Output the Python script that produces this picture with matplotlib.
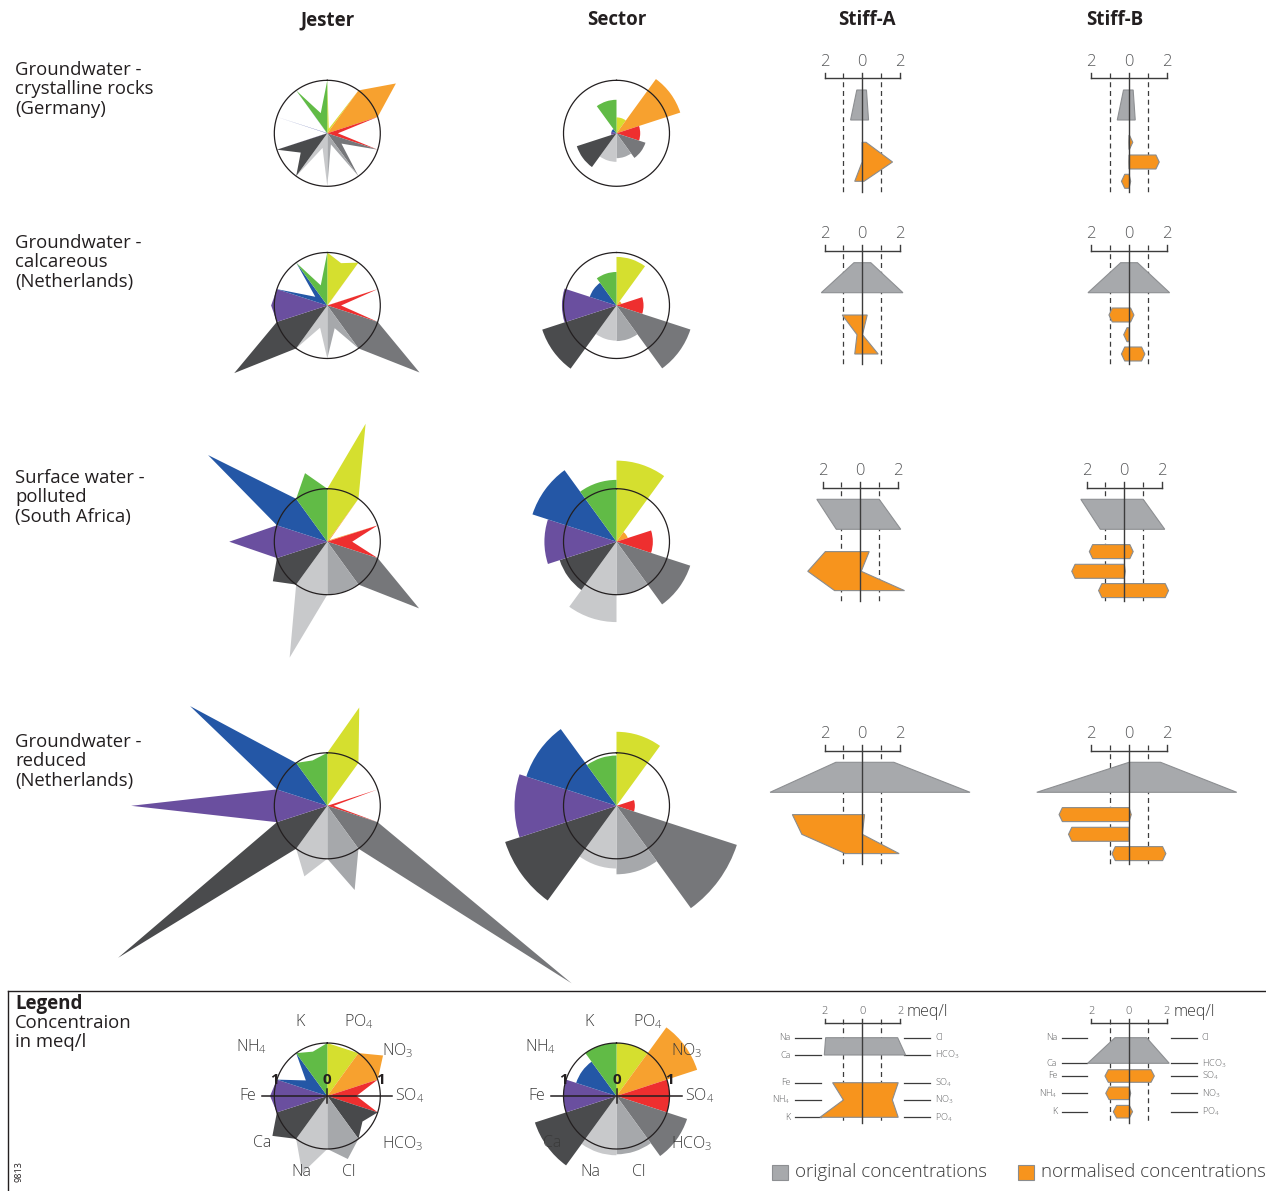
import numpy as np
import matplotlib
matplotlib.use("Agg")
import matplotlib.pyplot as plt
from matplotlib.patches import Polygon, Rectangle

plt.rcParams["font.family"] = ["Open Sans", "DejaVu Sans"]
plt.rcParams["mathtext.default"] = "regular"

W, H, DPI = 1266, 1191, 100

# Ions clockwise from north, one 36-degree sector each
IONS = ["PO4", "NO3", "SO4", "HCO3", "Cl", "Na", "Ca", "Fe", "NH4", "K"]
ION_TEXT = ["PO$_4$", "NO$_3$", "SO$_4$", "HCO$_3$", "Cl", "Na", "Ca", "Fe", "NH$_4$", "K"]
ION_COLORS = ["#d5df2f", "#f7a12f", "#ee2f2f", "#76777a", "#a6a8ab",
              "#c8c9cb", "#4a4b4d", "#6a4f9f", "#2457a6", "#61bb46"]
# the legend star shows bicarbonate in the dark grey
LEGEND_JESTER_COLORS = ION_COLORS[:3] + ["#48494b"] + ION_COLORS[4:]

COLUMN_TITLES = ["Jester", "Sector", "Stiff-A", "Stiff-B"]
ROW_TITLES = ["Groundwater -\ncrystalline rocks\n(Germany)",
              "Groundwater -\ncalcareous\n(Netherlands)",
              "Surface water -\npolluted\n(South Africa)",
              "Groundwater -\nreduced\n(Netherlands)"]

# Concentrations in meq/l, ordered as IONS
gw_crystalline = [0.09, 1.60, 0.20, 0.33, 0.22, 0.29, 0.62, 0.01, 0.01, 0.40]
gw_calcareous = [0.84, 0.01, 0.26, 2.15, 0.45, 0.44, 2.17, 1.06, 0.28, 0.40]
sw_polluted = [2.34, 0.05, 0.47, 2.14, 1.00, 2.30, 1.27, 1.85, 2.78, 1.36]
gw_reduced = [1.95, 0.00, 0.12, 5.70, 1.67, 1.40, 4.88, 3.70, 3.20, 0.90]

# Stiff-B original-concentration outline of the reduced sample: Na, Ca, Cl, HCO3
gw_reduced_stiff_b_original = [0.00, 4.88, 1.67, 5.70]

# Legend examples
legend_jester = [0.95, 1.30, 0.55, 0.82, 1.25, 1.53, 1.28, 1.08, 0.50, 0.88]
legend_sector = [1.00, 2.56, 1.00, 1.96, 1.21, 1.25, 2.62, 1.00, 0.64, 1.00]
legend_stiff_a_cations = [1.94, 2.01, 1.57, 1.00, 2.24]   # Na, Ca, Fe, NH4, K
legend_stiff_a_anions = [1.87, 2.29, 1.90, 1.59, 1.90]    # Cl, HCO3, SO4, NO3, PO4
legend_stiff_b_cations = [0.74, 2.19, 1.27, 1.23, 0.83]
legend_stiff_b_anions = [0.93, 2.13, 1.34, 0.09, 0.19]

CATIONS = ["Na", "Ca", "Fe", "NH4", "K"]
ANIONS = ["Cl", "HCO3", "SO4", "NO3", "PO4"]
STIFF_TICKS = [-2, 0, 2]

TXT = "#231f20"
GRAY_FILL, GRAY_EDGE = "#a7a9ac", "#8d8f92"
ORANGE_FILL, ORANGE_EDGE = "#f7941d", "#8a8c8e"

# layout (pixels)
UNIT = 53.0        # px per meq/l on the radial diagrams
SU = 18.9          # px per meq/l on the Stiff diagrams
ROW_Y = [133.3, 305.5, 541.7, 805.8]
JESTER_X, SECTOR_X = 327.3, 616.5
STIFF_A_X = [862.3, 862.3, 860.3, 862.3]
STIFF_B_X = [1129.0, 1129.0, 1124.3, 1129.0]
STIFF_TOP = [90.0, 262.7, 499.3, 762.3]
ROW_TITLE_Y = [61, 234, 469, 733]
LEGEND_Y = 1096.0
LEGEND_STIFF_TOP = 1037.7

ROW_GEO = dict(label=-28.3, bracket=-11.7, tick_top=-17.3, bottom=101.7,
               gray=[0, 30], orange=[52.3, 72.0, 91.3], hh=7.0, fs=12)
LEG_A_GEO = dict(label=-26.0, bracket=-14.4, tick_top=-18.7, bottom=85.3,
                 gray=[0, 17.3], orange=[45.0, 62.3, 79.6], hh=6.3, fs=8)
LEG_B_GEO = dict(label=-26.0, bracket=-14.4, tick_top=-18.7, bottom=85.3,
                 gray=[0, 25.6], orange=[38.3, 55.6, 74.0], hh=6.3, fs=8)

STEP = 2 * np.pi / len(IONS)
STARTS = np.arange(len(IONS)) * STEP

fig = plt.figure(figsize=(W / DPI, H / DPI), dpi=DPI)
page = fig.add_axes([0, 0, 1, 1])
page.set_xlim(0, W)
page.set_ylim(H, 0)
page.set_axis_off()


def px_rect(left, top, w, h):
    return [left / W, 1 - (top + h) / H, w / W, h / H]


def radial_axes(cx, cy, rmax):
    size = 2 * rmax * UNIT
    ax = fig.add_axes(px_rect(cx - rmax * UNIT, cy - rmax * UNIT, size, size),
                      projection="polar")
    ax.set_theta_zero_location("N")
    ax.set_theta_direction(-1)
    ax.set_ylim(0, rmax)
    ax.set_axis_off()
    ax.patch.set_visible(False)
    return ax


def unit_circle(ax):
    t = np.linspace(0, 2 * np.pi, 361)
    ax.plot(t, np.ones_like(t), color=TXT, lw=0.9, zorder=5)


def draw_jester(ax, values, colors=ION_COLORS):
    for a, v, c in zip(STARTS, values, colors):
        ax.fill([0, a, a + STEP / 2, a + STEP], [0, 1, v, 1],
                color=c, lw=0, zorder=2)
    unit_circle(ax)


def draw_sector(ax, values):
    ax.bar(STARTS + STEP / 2, np.sqrt(values), width=STEP, color=ION_COLORS,
           lw=0, zorder=2)
    unit_circle(ax)


LABEL_POS = {"K": (340, 1.49), "PO4": (23, 1.52), "NO3": (57, 1.58),
             "SO4": (90, 1.56), "HCO3": (122, 1.68), "Cl": (164, 1.49),
             "Na": (199, 1.51), "Ca": (234, 1.51), "Fe": (270, 1.51),
             "NH4": (303, 1.70)}


def legend_scale(ax):
    ax.plot([1.5 * np.pi, 0.5 * np.pi], [1.23, 1.23], color=TXT, lw=1.1, zorder=6)
    ax.plot([0, np.pi], [0.14, 0.14], color=TXT, lw=1.1, zorder=6)
    for th, r, t in [(0, 0, "0"), (1.5 * np.pi, 1, "1"), (0.5 * np.pi, 1, "1")]:
        ax.annotate(t, xy=(th, r), xytext=(0, 11.5), textcoords="offset points",
                    ha="center", va="center", fontsize=11, fontweight="bold",
                    color=TXT, zorder=7)
    for ion, txt in zip(IONS, ION_TEXT):
        ang, r = LABEL_POS[ion]
        ax.text(np.deg2rad(ang), r, txt, ha="center", va="center", fontsize=11.5,
                fontweight="light", color="#3a3a3a")


def stiff_axes(cx, top):
    ax = fig.add_axes(px_rect(cx - 7.5 * SU, top - 45, 15 * SU, 160))
    ax.set_xlim(-7.5, 7.5)
    ax.set_ylim(115 / SU, -45 / SU)
    ax.set_axis_off()
    return ax


def stiff_frame(ax, geo, unit_label=False):
    c = "#3c3c3c"
    g = {k: (np.array(v) / SU if isinstance(v, list) else v / SU)
         for k, v in geo.items() if k not in ("fs",)}
    ax.plot([STIFF_TICKS[0], STIFF_TICKS[-1]], [g["bracket"]] * 2, color=c, lw=1.0)
    for xv in (STIFF_TICKS[0], STIFF_TICKS[-1]):
        ax.plot([xv, xv], [g["bracket"], g["tick_top"]], color=c, lw=1.0)
    for xv in (-1, 1):
        ax.plot([xv, xv], [g["tick_top"], g["bottom"]], color=c, lw=0.9,
                ls=(0, (4, 3)), zorder=1)
    ax.plot([0, 0], [g["tick_top"], g["bottom"]], color=c, lw=1.0, zorder=6)
    for xv in STIFF_TICKS:
        ax.text(xv, g["label"], f"{abs(xv)}", ha="center", va="center",
                fontsize=geo["fs"], fontweight="light", color="#58595b")
    if unit_label:
        ax.text(2.35, g["label"], "meq/l", ha="left", va="center", fontsize=11.5,
                fontweight="light", color="#3a3a3a")
    return g


def split(values):
    d = dict(zip(IONS, values))
    return [d[i] for i in CATIONS], [d[i] for i in ANIONS]


def gray_poly(ax, g, cat, an):
    y0, y1 = g["gray"]
    pts = [(-cat[0], y0), (an[0], y0), (an[1], y1), (-cat[1], y1)]
    ax.add_patch(Polygon(pts, closed=True, fc=GRAY_FILL, ec=GRAY_EDGE, lw=0.8,
                         joinstyle="miter", zorder=3))


def stiff_a(ax, g, cat, an):
    gray_poly(ax, g, cat, an)
    y = g["orange"]
    pts = [(-cat[2], y[0]), (an[2], y[0]), (an[3], y[1]), (an[4], y[2]),
           (-cat[4], y[2]), (-cat[3], y[1])]
    ax.add_patch(Polygon(pts, closed=True, fc=ORANGE_FILL, ec=ORANGE_EDGE, lw=0.8,
                         joinstyle="miter", zorder=3))


def stiff_b(ax, g, cat, an, gray=None):
    if gray is None:
        gray_poly(ax, g, cat, an)
    else:
        gray_poly(ax, g, [gray[0], gray[1]], [gray[2], gray[3]])
    hh = g["hh"]
    inset = 3.3 / SU
    for k, y in enumerate(g["orange"]):
        left, right = cat[k + 2], an[k + 2]
        il, ir = min(inset, left), min(inset, right)
        xl, xr = -left, right
        pts = [(xl, y), (xl + il, y - hh), (xr - ir, y - hh), (xr, y),
               (xr - ir, y + hh), (xl + il, y + hh)]
        ax.add_patch(Polygon(pts, closed=True, fc=ORANGE_FILL, ec=ORANGE_EDGE,
                             lw=0.8, joinstyle="miter", zorder=3))


def stiff_ion_labels(ax, g):
    rows = list(g["gray"]) + list(g["orange"])
    for y, cat, an in zip(rows, CATIONS, ANIONS):
        ax.plot([-3.55, -2.2], [y, y], color="#3c3c3c", lw=0.9)
        ax.plot([2.2, 3.6], [y, y], color="#3c3c3c", lw=0.9)
        ax.text(-3.8, y, ION_TEXT[IONS.index(cat)], ha="right", va="center",
                fontsize=6.5, fontweight="light", color="#58595b")
        ax.text(3.85, y, ION_TEXT[IONS.index(an)], ha="left", va="center",
                fontsize=6.5, fontweight="light", color="#58595b")


# column and row titles
for x, t in zip([JESTER_X, SECTOR_X, 867, 1114.5], COLUMN_TITLES):
    page.text(x, 20, t, ha="center", va="center", fontsize=13.5, fontweight="bold",
              color=TXT)
for y, t in zip(ROW_TITLE_Y, ROW_TITLES):
    page.text(15, y, t, ha="left", va="top", fontsize=13.3, linespacing=1.1,
              color=TXT)

samples = [gw_crystalline, gw_calcareous, sw_polluted, gw_reduced]
stiff_b_gray = [None, None, None, gw_reduced_stiff_b_original]

for r, vals in enumerate(samples):
    draw_jester(radial_axes(JESTER_X, ROW_Y[r], 6.2), vals)
    draw_sector(radial_axes(SECTOR_X, ROW_Y[r], 6.2), vals)
    cat, an = split(vals)
    ax = stiff_axes(STIFF_A_X[r], STIFF_TOP[r])
    g = stiff_frame(ax, ROW_GEO)
    stiff_a(ax, g, cat, an)
    ax = stiff_axes(STIFF_B_X[r], STIFF_TOP[r])
    g = stiff_frame(ax, ROW_GEO)
    stiff_b(ax, g, cat, an, stiff_b_gray[r])

# legend panel
page.plot([8, W], [991, 991], color=TXT, lw=1.0)
page.plot([8, 8], [991, H], color=TXT, lw=1.0)
page.text(15, 1004, "Legend", ha="left", va="center", fontsize=13.5,
          fontweight="bold", color=TXT)
page.text(15, 1014, "Concentraion\nin meq/l", ha="left", va="top", fontsize=13.3,
          linespacing=1.1, color=TXT)
page.text(19, 1172, "9813", rotation=90, ha="center", va="center", fontsize=6.5,
          color=TXT)

ax = radial_axes(JESTER_X, LEGEND_Y, 2.0)
draw_jester(ax, legend_jester, LEGEND_JESTER_COLORS)
legend_scale(ax)
ax = radial_axes(SECTOR_X, LEGEND_Y, 2.0)
draw_sector(ax, legend_sector)
legend_scale(ax)

ax = stiff_axes(862.3, LEGEND_STIFF_TOP)
g = stiff_frame(ax, LEG_A_GEO, unit_label=True)
stiff_a(ax, g, legend_stiff_a_cations, legend_stiff_a_anions)
stiff_ion_labels(ax, g)
ax = stiff_axes(1129.0, LEGEND_STIFF_TOP)
g = stiff_frame(ax, LEG_B_GEO, unit_label=True)
g["hh"] = LEG_B_GEO["hh"] / SU
stiff_b(ax, g, legend_stiff_b_cations, legend_stiff_b_anions)
stiff_ion_labels(ax, g)

page.add_patch(Rectangle((772, 1165), 16, 15, fc=GRAY_FILL, ec=GRAY_EDGE, lw=0.8))
page.text(795, 1172, "original concentrations", ha="left", va="center",
          fontsize=13.5, fontweight="light", color="#3a3a3a")
page.add_patch(Rectangle((1018, 1165), 16, 15, fc=ORANGE_FILL, ec=ORANGE_EDGE, lw=0.8))
page.text(1041, 1172, "normalised concentrations", ha="left", va="center",
          fontsize=13.5, fontweight="light", color="#3a3a3a")

fig.savefig("out.png", dpi=DPI)
